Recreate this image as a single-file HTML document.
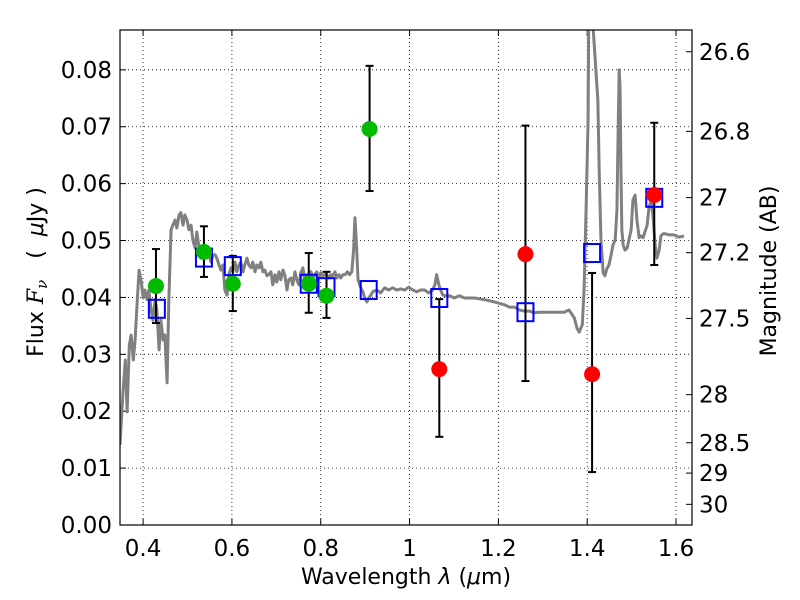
<!DOCTYPE html>
<html><head><meta charset="utf-8"><style>
body{margin:0;background:#fff}
svg{display:block;font-family:"DejaVu Sans","Liberation Sans",sans-serif}
</style></head><body>
<svg id="chart" width="800" height="600"></svg>
<script>
const xTicks=[0.4,0.6,0.8,1.0,1.2,1.4,1.6];
const xTickLabels=["0.4","0.6","0.8","1","1.2","1.4","1.6"];
const yTicks=[0,0.01,0.02,0.03,0.04,0.05,0.06,0.07,0.08];
const yTickLabels=["0.00","0.01","0.02","0.03","0.04","0.05","0.06","0.07","0.08"];
const magTicks=[26.6,26.8,27,27.2,27.5,28,28.5,29,30];
const magTickLabels=["26.6","26.8","27","27.2","27.5","28","28.5","29","30"];
const specWl=[0.348,0.355,0.360,0.364,0.369,0.373,0.378,0.382,0.387,0.391,0.396,0.400,0.404,0.409,0.413,0.418,0.422,0.427,0.431,0.436,0.440,0.445,0.449,0.454,0.458,0.463,0.467,0.472,0.476,0.481,0.485,0.490,0.494,0.499,0.503,0.508,0.512,0.517,0.521,0.526,0.530,0.535,0.539,0.544,0.548,0.553,0.557,0.562,0.566,0.571,0.575,0.580,0.584,0.589,0.593,0.598,0.602,0.607,0.611,0.616,0.620,0.625,0.629,0.634,0.638,0.643,0.647,0.652,0.656,0.661,0.665,0.670,0.674,0.679,0.683,0.688,0.692,0.697,0.701,0.706,0.710,0.715,0.719,0.724,0.728,0.733,0.737,0.742,0.746,0.751,0.755,0.760,0.764,0.769,0.773,0.778,0.782,0.787,0.791,0.796,0.800,0.805,0.809,0.814,0.818,0.823,0.827,0.832,0.836,0.841,0.845,0.850,0.855,0.860,0.865,0.870,0.874,0.877,0.880,0.884,0.890,0.895,0.899,0.904,0.908,0.913,0.917,0.926,0.935,0.944,0.953,0.962,0.971,0.980,0.989,0.998,1.007,1.016,1.025,1.034,1.043,1.052,1.057,1.061,1.066,1.070,1.075,1.080,1.090,1.101,1.112,1.124,1.146,1.169,1.191,1.214,1.225,1.236,1.247,1.258,1.270,1.281,1.292,1.303,1.326,1.348,1.359,1.371,1.377,1.382,1.389,1.393,1.398,1.402,1.404,1.407,1.424,1.427,1.431,1.436,1.440,1.444,1.449,1.454,1.458,1.463,1.467,1.469,1.472,1.474,1.476,1.478,1.481,1.485,1.490,1.494,1.499,1.503,1.508,1.512,1.517,1.521,1.526,1.530,1.535,1.539,1.544,1.548,1.553,1.557,1.562,1.566,1.571,1.575,1.584,1.595,1.607,1.618,1.640];
const specFlux=[.0141,.0237,.0290,.0199,.0316,.0334,.0290,.0325,.0396,.0448,.0427,.0399,.0413,.0396,.0413,.0378,.0360,.0396,.0378,.0308,.0360,.0325,.0334,.0250,.0396,.0519,.0527,.0536,.0522,.0545,.0549,.0527,.0545,.0536,.0519,.0527,.0501,.0487,.0515,.0487,.0469,.0475,.0483,.0487,.0475,.0462,.0475,.0475,.0469,.0457,.0448,.0457,.0413,.0404,.0440,.0452,.0445,.0462,.0445,.0457,.0462,.0445,.0457,.0469,.0457,.0452,.0462,.0445,.0457,.0452,.0462,.0445,.0448,.0438,.0440,.0445,.0422,.0440,.0427,.0445,.0431,.0448,.0440,.0413,.0431,.0434,.0422,.0445,.0431,.0422,.0443,.0452,.0431,.0440,.0431,.0445,.0434,.0440,.0445,.0434,.0443,.0438,.0440,.0440,.0434,.0440,.0438,.0445,.0434,.0440,.0434,.0440,.0440,.0445,.0440,.0445,.0483,.0540,.0501,.0431,.0417,.0410,.0399,.0392,.0399,.0404,.0410,.0413,.0408,.0417,.0413,.0417,.0413,.0415,.0413,.0418,.0413,.0410,.0413,.0413,.0408,.0413,.0422,.0440,.0422,.0413,.0404,.0403,.0403,.0399,.0403,.0399,.0399,.0396,.0392,.0387,.0383,.0383,.0378,.0376,.0376,.0373,.0374,.0374,.0374,.0374,.0378,.0364,.0346,.0339,.0352,.0413,.0571,.0712,.095,.095,.0747,.0624,.0501,.0443,.0438,.0450,.0457,.0475,.0492,.0501,.0554,.0659,.0800,.0770,.0624,.0519,.0492,.0483,.0487,.0501,.0519,.0571,.0580,.0536,.0505,.0508,.0505,.0515,.0527,.0557,.0571,.0545,.0492,.0469,.0483,.0508,.0512,.0512,.0510,.0510,.0506,.0508];
const obsWl=[0.429,0.537,0.602,0.773,0.813,0.910,1.067,1.261,1.411,1.551];
const obsFlux=[0.0420,0.0480,0.0424,0.0424,0.0403,0.0696,0.0274,0.0476,0.0265,0.0580];
const obsHi=[0.0485,0.0525,0.0473,0.0478,0.0445,0.0807,0.0397,0.0702,0.0443,0.0707];
const obsLo=[0.0355,0.0436,0.0376,0.0373,0.0364,0.0587,0.0155,0.0253,0.0093,0.0457];
const obsColor=["#00bb00","#00bb00","#00bb00","#00bb00","#00bb00","#00bb00","#ff0000","#ff0000","#ff0000","#ff0000"];
const modelWl=[0.431,0.537,0.602,0.773,0.813,0.908,1.067,1.261,1.411,1.551];
const modelFlux=[0.0380,0.0470,0.0455,0.0424,0.0418,0.0413,0.0399,0.0374,0.0478,0.0575];

const L=120,R=692,T=30,B=525;
const X0=0.348,X1=1.636,Y0=0,Y1=0.087;
const xs=v=>L+(v-X0)/(X1-X0)*(R-L);
const ys=v=>B-(v-Y0)/(Y1-Y0)*(B-T);
const magToFlux=m=>Math.pow(10,(23.9-m)/2.5);
const NS="http://www.w3.org/2000/svg";
const svg=document.getElementById('chart');
function mk(tag,attrs,parent){const e=document.createElementNS(NS,tag);for(const k in attrs)e.setAttribute(k,attrs[k]);(parent||svg).appendChild(e);return e;}

const defs=mk('defs',{});
const cp=mk('clipPath',{id:'clip'},defs);
mk('rect',{x:L,y:T,width:R-L,height:B-T},cp);

const grid=mk('g',{});


xTicks.forEach((t,i)=>{
  const x=xs(t);
  mk('line',{x1:x,x2:x,y1:T,y2:B,stroke:'#000','stroke-width':0.8,'stroke-dasharray':'1,3'},grid);
  mk('line',{x1:x,x2:x,y1:B,y2:B-6,stroke:'#000','stroke-width':1},grid);
  mk('line',{x1:x,x2:x,y1:T,y2:T+6,stroke:'#000','stroke-width':1},grid);
  const tx=mk('text',{x:x,y:B+31,'text-anchor':'middle','font-size':23});
  
  
  tx.textContent=xTickLabels[i];
});
yTicks.forEach((t,i)=>{
  const y=ys(t);
  mk('line',{x1:L,x2:R,y1:y,y2:y,stroke:'#000','stroke-width':0.8,'stroke-dasharray':'1,3'},grid);
  mk('line',{x1:L,x2:L+6,y1:y,y2:y,stroke:'#000','stroke-width':1},grid);
  const tx=mk('text',{x:L-8,y:y+8,'text-anchor':'end','font-size':23});
  
  
  tx.textContent=yTickLabels[i];
});
magTicks.forEach((m,i)=>{
  const y=ys(magToFlux(m));
  mk('line',{x1:R,x2:R-6,y1:y,y2:y,stroke:'#000','stroke-width':1},grid);
  const tx=mk('text',{x:R+7,y:y+8,'font-size':23});
  
  
  tx.textContent=magTickLabels[i];
});

const plot=mk('g',{'clip-path':'url(#clip)'});
const sp=mk('polyline',{points:specWl.map((w,i)=>xs(w)+','+ys(specFlux[i])).join(' '),fill:'none',stroke:'#808080','stroke-width':3,'stroke-linejoin':'round'},plot);



obsWl.forEach((w,i)=>{
  const x=xs(w);
  const eb=mk('g',{},plot);
  
  
  mk('line',{x1:x,x2:x,y1:ys(obsHi[i]),y2:ys(obsLo[i]),stroke:'#000','stroke-width':2},eb);
  mk('line',{x1:x-4,x2:x+4,y1:ys(obsHi[i]),y2:ys(obsHi[i]),stroke:'#000','stroke-width':2},eb);
  mk('line',{x1:x-4,x2:x+4,y1:ys(obsLo[i]),y2:ys(obsLo[i]),stroke:'#000','stroke-width':2},eb);
});
modelWl.forEach((w,i)=>{
  const r=mk('rect',{x:xs(w)-8,y:ys(modelFlux[i])-9,width:16,height:18,fill:'none',stroke:'#0000ff','stroke-width':2},plot);
  
  
});
obsWl.forEach((w,i)=>{
  const c=mk('circle',{cx:xs(w),cy:ys(obsFlux[i]),r:8,fill:obsColor[i]},plot);
  
  
});

const frame=mk('rect',{x:L,y:T,width:R-L,height:B-T,fill:'none',stroke:'#000','stroke-width':1.2});



const xt=mk('text',{x:406,y:584,'text-anchor':'middle','font-size':22,'xml:space':'preserve'});


xt.innerHTML='Wavelength  <tspan font-style="italic">λ</tspan> (<tspan font-style="italic">μ</tspan>m)';
const yt=mk('text',{x:0,y:0,'text-anchor':'middle','font-size':22,transform:'translate(43,272) rotate(-90)','xml:space':'preserve'});


yt.innerHTML='Flux  <tspan font-style="italic" font-family="DejaVu Serif">F</tspan><tspan font-style="italic" font-family="DejaVu Serif" font-size="15" dy="4">ν</tspan><tspan dy="-4" xml:space="preserve">   (  </tspan><tspan font-style="italic">μ</tspan>Jy )';
const rt=mk('text',{x:0,y:0,'text-anchor':'middle','font-size':22,transform:'translate(776,271) rotate(-90)'});


rt.textContent='Magnitude (AB)';
</script>
</body></html>
